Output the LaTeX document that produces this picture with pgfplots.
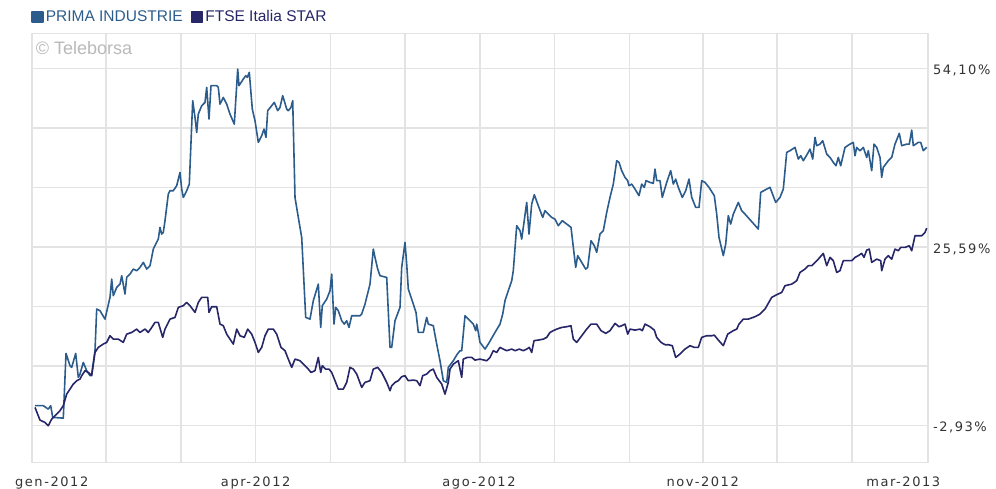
\documentclass[border=0pt]{standalone}
\usepackage{pgfplots}
\pgfplotsset{compat=1.18}
\usepackage{fontspec}
\setmainfont{Liberation Sans}
\newfontfamily\tickfont[LetterSpace=12]{DejaVu Sans}
\definecolor{prima}{HTML}{2B5C8C}
\definecolor{ftse}{HTML}{262668}
\definecolor{gridc}{HTML}{E3E3E3}
\definecolor{lbl}{HTML}{333333}

% PRIMA INDUSTRIE, variazione % (x = posizione sul grafico)
\pgfplotstableread{
x y
35 0.22
43.3 0.22
48.3 -0.33
50.7 0.22
52.7 -1.65
63.3 -1.77
66 8.57
70 6.61
71.7 6.34
75.7 8.57
78.3 4.74
80 5.27
83.3 7.13
86.7 5.81
90 5.01
91.7 5.27
95 9.00
96.7 15.65
100 15.39
105 14.05
110 17.52
111.7 20.44
113.3 17.79
116.7 19.11
120 19.64
121.7 20.98
125 18.05
126.7 20.71
130 21.24
133.3 22.04
136.7 21.78
140 22.31
143.3 23.11
146.7 22.04
150 22.58
151.7 23.91
153.3 25.23
158.3 26.83
160 28.70
161.7 27.63
163.3 27.90
165 29.77
168.3 34.02
170 34.56
173.3 34.56
176.7 35.36
180 37.48
181.7 34.82
183.3 33.49
186.7 34.56
189.3 35.62
192.7 48.94
195 46.27
196.7 43.87
198.3 46.80
201.7 48.14
205 48.67
206.7 51.06
209 46.00
211 51.34
216.7 51.34
218.3 51.06
220 48.39
223.3 49.46
226.7 48.39
230 46.80
234.3 45.20
237.7 53.99
239 51.34
243.3 52.39
245.7 52.93
247.3 52.66
249.3 53.46
252.3 47.60
255 45.74
258.3 42.28
261.7 43.35
264 44.40
266 43.08
267.7 47.34
271.7 48.14
274.3 48.67
277.7 47.34
280 47.87
282.7 49.74
286.7 47.60
288.3 47.34
291 47.87
292.7 48.94
295 33.49
298.3 30.29
301.7 27.10
305.7 14.32
310 14.05
313.3 16.99
318.3 19.64
320.7 12.72
322.3 16.19
326.7 17.24
330 18.58
331.7 21.24
334 13.25
335.7 15.92
338.3 15.39
341.7 13.79
344.3 13.25
346.7 13.79
349 12.72
351.7 14.59
360 14.59
361.7 14.85
365 16.45
370 19.64
373.3 25.23
375 23.91
377.7 22.04
380 20.98
386.7 20.71
390 9.53
391.7 9.53
395 13.79
400 15.92
401.7 22.31
405 26.30
406.7 22.83
408.3 18.84
413.3 16.45
416 15.12
418.3 11.92
423.3 11.92
426.7 14.32
428.3 13.25
433.3 12.99
436.7 10.06
440 7.40
443.3 4.21
446.7 3.94
448.3 6.34
453.3 7.40
457.3 8.46
460 9.00
461.7 9.00
465 14.59
468.3 14.05
473.3 13.25
475.7 12.20
476.7 13.25
478.3 11.92
480 10.33
485 9.26
488.3 10.06
495 11.92
500 13.25
502.7 14.85
505 16.99
508.3 18.58
511.7 20.18
513.3 21.78
516.7 28.97
520 28.17
521.7 26.83
524 29.50
526.7 32.69
529 27.63
531.7 32.42
534.3 33.92
538.3 32.16
542.7 30.29
545 31.36
548.3 30.82
551.7 30.29
555 30.02
558.3 28.97
562.3 29.77
566.7 29.23
571 28.70
575.7 22.31
577.7 24.18
581.7 23.11
585.7 22.04
587.7 22.31
591 26.57
594.3 25.77
596.7 24.71
600 27.63
603.3 28.17
606.7 31.09
610 33.49
613.3 35.62
616.7 39.35
619 39.08
621.7 37.76
625 36.69
627.7 36.16
629 35.36
631.7 35.62
635 34.82
639 33.76
641.7 35.62
644.3 35.09
646 36.16
650 35.89
653.3 35.73
655 38.01
656.7 36.16
660 36.16
662.3 33.49
666.7 35.89
670.7 37.76
673.3 35.62
675.7 36.41
678.3 35.09
682.3 33.49
685.7 34.56
689 36.41
691.7 33.49
695.7 31.89
699 31.89
701.7 36.16
705 35.89
709 35.09
714.3 33.76
716.7 30.82
719 27.10
723.3 24.18
725.7 26.03
728.3 30.57
730.7 29.23
733.3 30.82
738.3 32.69
741.7 31.36
745 30.82
758.3 28.43
760.7 34.29
766.7 34.82
770 35.09
775.7 32.69
780 33.49
783.3 34.82
786.7 40.68
790 40.95
795 41.48
798.3 39.61
800.7 40.15
803.3 39.35
807.3 40.41
810 41.21
812.7 39.61
815 43.08
816.7 41.75
820 42.00
822.7 42.55
826.7 40.41
830 39.88
833.3 39.08
836 38.55
838.3 39.88
840.7 38.55
845 41.48
850 42.00
853.3 42.28
855 40.15
856.7 41.48
860 40.95
863.3 41.48
866.7 39.88
868.3 40.95
871.7 37.76
874 42.00
876.7 41.48
880 39.88
881.7 36.69
883.3 38.28
888.3 39.35
891.7 39.88
895 42.00
899.3 43.72
901.7 41.75
906.7 42.00
909.3 42.00
911.7 44.24
913.3 41.75
918.3 42.28
920.7 42.28
923.3 40.95
926.7 41.48
}\prima

% FTSE Italia STAR, variazione %
\pgfplotstableread{
x y
35 -0.06
40 -2.09
45 -2.45
48.3 -2.98
51.7 -1.92
55 -1.38
60 -0.58
63.3 0.22
66.7 2.07
70 2.87
73.3 3.67
76.7 4.21
80 4.47
81.7 5.01
85 5.81
88.3 5.53
91.7 5.01
95 8.73
98.3 9.53
103.3 10.06
106.7 10.33
110 11.39
113.3 10.85
118.3 10.85
123.3 10.33
126.7 11.65
131.7 11.92
136.7 12.45
140 11.92
145 12.45
148.3 11.92
151.7 12.72
155 13.52
158.3 13.52
162.7 11.13
165 12.45
170 14.05
175 14.32
178.3 15.92
183.3 16.19
186.7 16.72
190 16.19
195 15.12
198.3 16.72
201.7 17.52
207.7 17.52
209 15.12
211.7 16.03
216.7 16.03
220 13.25
223.3 12.99
226.7 11.65
230 10.85
233.3 10.06
236.7 12.45
240 11.39
244.3 11.13
247.7 12.45
251.7 11.65
255 10.33
258.3 8.73
261.7 9.53
265 11.39
268.3 12.45
273.3 12.45
276.7 11.65
281 9.53
285 9.00
288.3 7.66
291.7 6.34
295 7.66
300 7.40
303.3 6.86
308.3 6.06
311 5.53
315 5.81
318.3 7.93
320.7 5.53
322.3 6.61
325.7 6.06
329 6.06
331.7 5.53
335 4.21
338.3 2.87
343.3 2.87
346.7 3.94
350 6.34
353.3 6.06
356.7 5.27
361.7 3.14
365 3.94
370 4.21
373.3 6.06
377.7 6.34
381.7 5.53
386.7 3.94
390 2.61
391.7 3.41
395 3.94
398.3 4.21
401.7 4.85
405 5.01
408.3 4.21
413.3 4.31
416.7 4.21
420 3.41
422.7 5.01
426.7 5.27
430 5.81
433.3 6.06
436.7 4.74
441.7 3.67
445 2.07
448.3 3.94
450 6.06
453.3 6.86
458.3 7.40
461.7 4.74
463.3 7.66
467.3 7.93
471.7 7.93
475 7.50
480 7.66
486.7 7.40
490 7.93
493.3 9.00
496.7 8.73
500 9.53
503.3 9.26
506.7 9.00
511.7 9.26
515 9.00
519.3 9.26
523.3 9.00
526.7 9.26
529.3 9.53
531.7 8.73
534 10.60
538.3 10.70
543.3 10.85
546.7 11.13
550 11.92
553.3 12.20
556.7 12.45
561.7 12.72
566.7 12.83
571 12.99
573.3 10.85
576.7 10.33
581.7 11.39
586.7 12.45
591 13.25
596.7 13.25
601 12.20
605.7 11.77
610 12.20
615 13.36
619 12.83
621.7 12.99
625 13.25
627.7 11.65
630 12.45
635 12.29
640 12.45
642.3 12.20
645 13.25
650 12.83
654.3 12.29
656.7 11.13
661 10.33
665 9.96
668.3 9.96
672.3 9.80
675.7 7.93
680 8.46
685 9.26
690 9.80
694.3 9.53
698.3 9.53
701.7 11.13
706.7 11.39
711.7 11.39
714.3 11.49
718.3 10.70
723.3 9.80
727.7 11.65
733.3 12.20
736.7 12.45
739 13.25
743.3 14.05
748.3 14.05
755 14.43
760 14.85
765 15.65
771.7 17.52
776.7 17.95
781.7 18.31
785 19.38
791.7 19.64
796.7 20.18
800 21.51
805 22.04
808.3 22.58
811.7 22.58
815 23.11
818.3 23.63
823.3 24.55
826.7 22.58
830 23.91
833.3 23.38
836.7 21.51
840 21.78
843.3 23.38
851.7 23.38
855 23.91
858.3 24.18
861.7 24.55
864 23.91
866.7 25.07
869.3 25.23
871.7 23.11
876.7 23.63
880.7 23.38
881.7 21.78
885 23.63
888.3 24.18
891.7 23.63
895 25.23
898.3 24.97
900.7 25.50
905 25.50
909.3 25.77
911.7 24.97
915 27.37
921.7 27.37
925 27.90
926.7 28.59
}\ftse

\begin{document}
\begin{tikzpicture}[x=1pt,y=1pt]
\path[use as bounding box] (0,0) rectangle (996,489);
\begin{axis}[
    at={(32,42.5)}, anchor=south west,
    scale only axis, width=896pt, height=429pt,
    xmin=32, xmax=928, ymin=-8.84, ymax=59.69,
    axis line style={gridc, line width=1.3pt},
    grid=major, grid style={gridc, line width=1.3pt},
    major tick length=0pt,
    xtick={32,106,181,255.7,330.3,405,480,554.3,629.3,703,777,852,928},
    xticklabels={},
    extra x ticks={51.7,255.7,479,702.7,903.3},
    extra x tick labels={gen-2012,apr-2012,ago-2012,nov-2012,mar-2013},
    extra x tick style={grid=none, major tick length=0pt},
    ytick={-2.93,6.575,16.08,25.59,35.09,44.595,54.10},
    yticklabels={{-2,93\%},{},{},{25,59\%},{},{},{54,10\%}},
    yticklabel pos=right,
    ticklabel style={font=\tickfont\fontsize{13}{15}\selectfont, text=lbl},
    x tick label style={yshift=-10.5pt},
    y tick label style={xshift=1.5pt, yshift=-2.5pt},
    legend style={at={(axis description cs:0,1)}, anchor=south west,
        draw=none, fill=none, inner sep=0pt, yshift=8pt, xshift=-1pt,
        font=\fontsize{15.5}{17}\selectfont,
        /tikz/every even column/.append style={column sep=6pt}},
    legend columns=2,
    legend image code/.code={\fill[#1] (0pt,-5pt) rectangle (11pt,5pt);},
    clip=true,
]
\addplot[prima, line width=1.6pt, line join=round] table {\prima};
\addlegendentry{\textcolor{prima}{PRIMA INDUSTRIE}}
\addplot[ftse, line width=1.6pt, line join=round] table {\ftse};
\addlegendentry{\textcolor{ftse}{FTSE Italia STAR}}
\node[anchor=west, text=gray!55, font=\fontsize{18}{20}\selectfont, inner sep=0pt]
    at (axis description cs:0.004,0.966) {© Teleborsa};
\end{axis}
\end{tikzpicture}
\end{document}
